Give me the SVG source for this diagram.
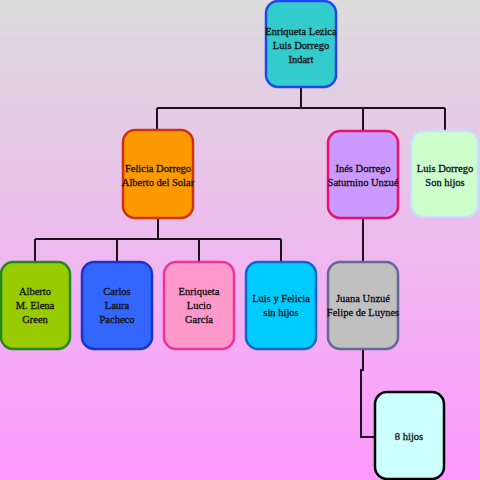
<svg xmlns="http://www.w3.org/2000/svg" width="480" height="480" viewBox="0 0 480 480">
<defs>
<linearGradient id="bg" x1="0" y1="0" x2="0" y2="1">
<stop offset="0" stop-color="#dcdcdc"/>
<stop offset="1" stop-color="#ff99ff"/>
</linearGradient>
<style>
.n{stroke-width:2.5}
.t{font-family:"Liberation Serif","Times New Roman",serif;font-size:10.5px;fill:#111;stroke:#111;stroke-width:0.3;text-anchor:middle}
.c{fill:none;stroke:#1e0f1e;stroke-width:2}
</style>
</defs>
<rect width="480" height="480" fill="url(#bg)"/>
<g id="connectors" class="c">
<path d="M301 87V108M157 108H445M157 108V130M363 108V130M445 108V131"/>
<path d="M158 218V239M35 239H281M35 239V262M117 239V262M199 239V262M281 239V262"/>
<path d="M363 218V262"/>
<path d="M363 349V370H361V437H374"/>
</g>
<g id="root">
<rect class="n" x="266" y="1" width="70" height="86" rx="12" fill="#33cccc" stroke="#2244ee"/>
<text class="t" x="301" y="34.5">Enriqueta Lezica</text>
<text class="t" x="301" y="48.5">Luis Dorrego</text>
<text class="t" x="301" y="62.5">Indart</text>
</g>
<g id="felicia">
<rect class="n" x="123" y="130" width="70" height="88" rx="12" fill="#ff9900" stroke="#cc3311"/>
<text class="t" x="158" y="172">Felicia Dorrego</text>
<text class="t" x="158" y="186">Alberto del Solar</text>
</g>
<g id="ines">
<rect class="n" x="328" y="131" width="70" height="87" rx="12" fill="#cc99ff" stroke="#e6136a"/>
<text class="t" x="363" y="172">Inés Dorrego</text>
<text class="t" x="363" y="186">Saturnino Unzué</text>
</g>
<g id="luis">
<rect class="n" x="411" y="131" width="67" height="86" rx="12" fill="#ccffcc" stroke="#ccdcff"/>
<text class="t" x="445" y="172">Luis Dorrego</text>
<text class="t" x="445" y="186">Son hijos</text>
</g>
<g id="alberto">
<rect class="n" x="1" y="262" width="69" height="87" rx="12" fill="#99cc00" stroke="#228822"/>
<text class="t" x="35" y="295">Alberto</text>
<text class="t" x="35" y="309">M. Elena</text>
<text class="t" x="35" y="323">Green</text>
</g>
<g id="carlos">
<rect class="n" x="82" y="262" width="70" height="87" rx="12" fill="#3366ff" stroke="#1a33cc"/>
<text class="t" x="117" y="295">Carlos</text>
<text class="t" x="117" y="309">Laura</text>
<text class="t" x="117" y="323">Pacheco</text>
</g>
<g id="enriqueta">
<rect class="n" x="164" y="262" width="70" height="87" rx="12" fill="#ff99cc" stroke="#ee3399"/>
<text class="t" x="199" y="295">Enriqueta</text>
<text class="t" x="199" y="309">Lucio</text>
<text class="t" x="199" y="323">García</text>
</g>
<g id="luisyfelicia">
<rect class="n" x="246" y="262" width="70" height="87" rx="12" fill="#00ccff" stroke="#1166cc"/>
<text class="t" x="281" y="302">Luis y Felicia</text>
<text class="t" x="281" y="316">sin hijos</text>
</g>
<g id="juana">
<rect class="n" x="328" y="262" width="70" height="87" rx="12" fill="#c0c0c0" stroke="#666699"/>
<text class="t" x="363" y="302">Juana Unzué</text>
<text class="t" x="363" y="316">Felipe de Luynes</text>
</g>
<g id="ochohijos">
<rect class="n" x="375" y="392" width="69" height="87" rx="12" fill="#ccffff" stroke="#000"/>
<text class="t" x="409" y="440">8 hijos</text>
</g>
</svg>
